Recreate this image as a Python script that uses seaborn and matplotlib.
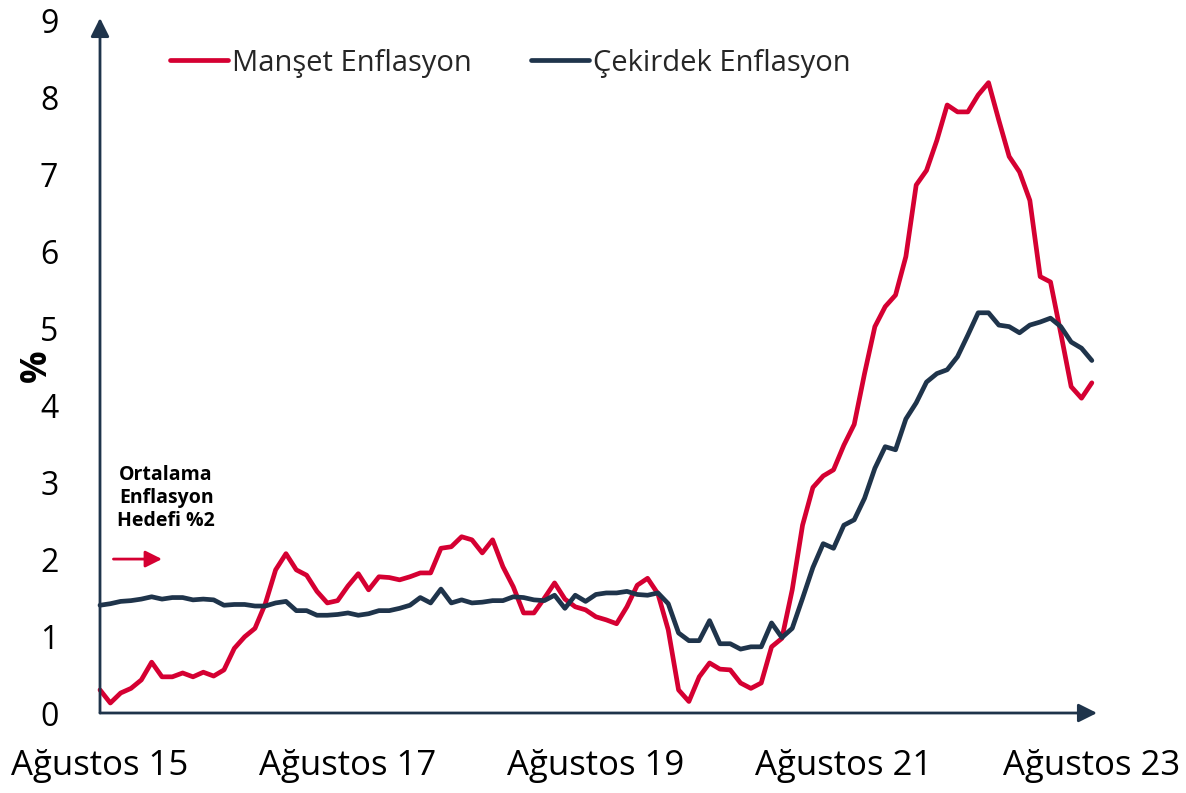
import pandas as pd
import matplotlib
matplotlib.use('Agg')
import matplotlib.pyplot as plt
import seaborn as sns

red = '#D50032'
navy = '#1F344B'

# monthly, Aug 2015 .. Aug 2023
manset = [0.30, 0.13, 0.26, 0.32, 0.43, 0.66, 0.47, 0.47, 0.52, 0.47, 0.53, 0.48,
          0.56, 0.84, 0.99, 1.10, 1.42, 1.86, 2.07, 1.86, 1.79, 1.58, 1.43, 1.46,
          1.65, 1.81, 1.60, 1.77, 1.76, 1.73, 1.77, 1.82, 1.82, 2.14, 2.16, 2.29,
          2.25, 2.08, 2.25, 1.90, 1.64, 1.30, 1.30, 1.49, 1.69, 1.48, 1.38, 1.34,
          1.25, 1.21, 1.16, 1.38, 1.66, 1.75, 1.55, 1.08, 0.30, 0.15, 0.47, 0.65,
          0.57, 0.56, 0.39, 0.32, 0.39, 0.86, 0.97, 1.60, 2.44, 2.93, 3.08, 3.16,
          3.48, 3.75, 4.41, 5.02, 5.28, 5.43, 5.93, 6.86, 7.05, 7.44, 7.90, 7.81,
          7.81, 8.03, 8.19, 7.70, 7.23, 7.03, 6.66, 5.67, 5.60, 4.93, 4.24, 4.09,
          4.29]
cekirdek = [1.40, 1.42, 1.45, 1.46, 1.48, 1.51, 1.48, 1.50, 1.50, 1.47, 1.48, 1.47,
            1.40, 1.41, 1.41, 1.39, 1.39, 1.43, 1.45, 1.33, 1.33, 1.27, 1.27, 1.28,
            1.30, 1.27, 1.29, 1.33, 1.33, 1.36, 1.40, 1.50, 1.43, 1.61, 1.43, 1.47,
            1.43, 1.44, 1.46, 1.46, 1.51, 1.50, 1.47, 1.46, 1.53, 1.36, 1.53, 1.45,
            1.54, 1.56, 1.56, 1.58, 1.54, 1.53, 1.56, 1.42, 1.04, 0.94, 0.94, 1.20,
            0.90, 0.90, 0.83, 0.86, 0.86, 1.17, 0.98, 1.10, 1.49, 1.89, 2.20, 2.14,
            2.44, 2.51, 2.79, 3.18, 3.46, 3.42, 3.82, 4.03, 4.30, 4.41, 4.46, 4.63,
            4.91, 5.20, 5.20, 5.04, 5.02, 4.94, 5.04, 5.08, 5.13, 5.02, 4.82, 4.74,
            4.58]
tick_pos = [0, 24, 48, 72, 96]
tick_labels = ['Ağustos 15', 'Ağustos 17', 'Ağustos 19', 'Ağustos 21', 'Ağustos 23']
y_ticks = list(range(0, 10))

df = pd.DataFrame({'ay': range(len(manset)), 'Manşet Enflasyon': manset,
                   'Çekirdek Enflasyon': cekirdek})

sns.set_theme(style='white')
plt.rcParams['font.family'] = ['Open Sans', 'DejaVu Sans']

fig = plt.figure(figsize=(11.86, 7.93), dpi=100)
ax = fig.add_axes([100 / 1186, 80 / 793, 997 / 1186, 695 / 793])

sns.lineplot(data=df, x='ay', y='Manşet Enflasyon', ax=ax, color=red, lw=3.4,
             label='Manşet Enflasyon', legend=False, clip_on=False)
sns.lineplot(data=df, x='ay', y='Çekirdek Enflasyon', ax=ax, color=navy, lw=3.4,
             label='Çekirdek Enflasyon', legend=False, clip_on=False)

ax.set_xlim(0, 96.5)
ax.set_ylim(0, 9.03)
ax.set_xticks(tick_pos)
ax.set_xticklabels(tick_labels)
ax.set_yticks(y_ticks)
ax.tick_params(axis='x', length=0, pad=26, labelsize=25, colors='black')
ax.tick_params(axis='y', length=0, pad=30, labelsize=23, colors='black')
ax.set_xlabel('')
ax.set_ylabel('%', fontsize=26, fontweight='bold', color='black')
ax.yaxis.set_label_coords(-0.045, 0.5)

for s in ax.spines.values():
    s.set_visible(False)

# axis arrows
ax.annotate('', xy=(1, 0), xycoords='axes fraction', xytext=(0, 0),
            arrowprops=dict(arrowstyle='-|>', color=navy, lw=2,
                            mutation_scale=28, shrinkA=0, shrinkB=0),
            annotation_clip=False)
ax.annotate('', xy=(0, 1), xycoords='axes fraction', xytext=(0, 0),
            arrowprops=dict(arrowstyle='-|>', color=navy, lw=2,
                            mutation_scale=28, shrinkA=0, shrinkB=0),
            annotation_clip=False)

# target note
ax.text(6.4, 2.79, 'Ortalama\nEnflasyon\nHedefi %2', ha='center', va='center',
        fontsize=14, fontweight='bold', color='black', linespacing=1.2)
ax.annotate('', xy=(6.0, 2), xytext=(1.3, 2),
            arrowprops=dict(arrowstyle='-|>,head_length=0.5,head_width=0.25',
                            color=red, lw=2, mutation_scale=20,
                            shrinkA=0, shrinkB=0))

handles, labels = ax.get_legend_handles_labels()
fig.legend(handles, labels, loc='center left', bbox_to_anchor=(170 / 1186, 1 - 63 / 793),
           ncol=2, frameon=False, fontsize=21, borderpad=0, borderaxespad=0,
           handlelength=2.0, handletextpad=0.14, columnspacing=2.0)

plt.savefig('out.png', dpi=100)
